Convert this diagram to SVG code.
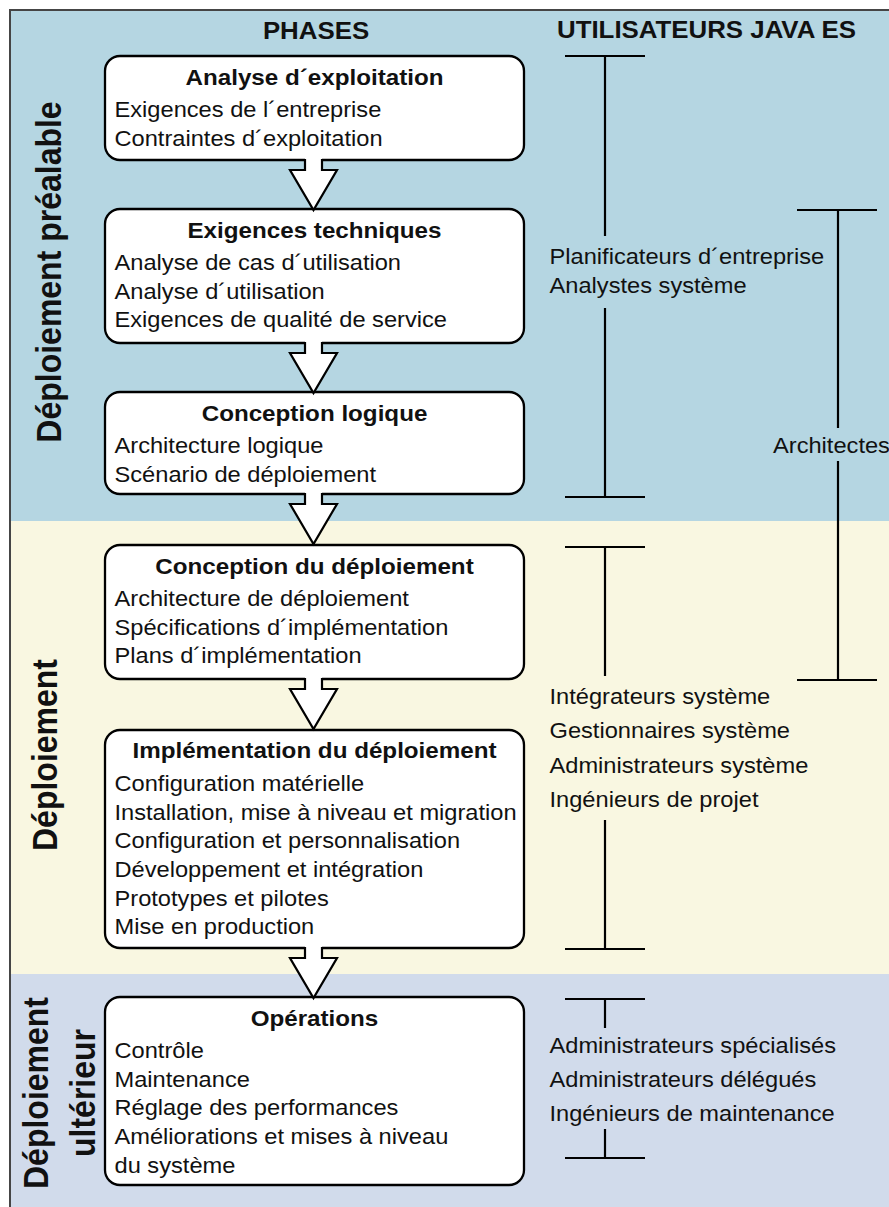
<svg xmlns="http://www.w3.org/2000/svg" width="889" height="1207" viewBox="0 0 889 1207">
  <style>
    text { font-family: "Liberation Sans", Arial, Helvetica, sans-serif; fill: #111; }
    .item { font-size: 21.5px; }
    .title { font-size: 22px; font-weight: bold; text-anchor: middle; }
    .head { font-size: 23.5px; font-weight: bold; text-anchor: middle; }
    .side { font-size: 32px; font-weight: bold; text-anchor: middle; }
    .box { fill: #fff; stroke: #000; stroke-width: 2.3; }
    .bar { stroke: #000; stroke-width: 2.2; fill: none; }
    .arrow-fill { fill: #fff; stroke: none; }
    .arrow-line { fill: none; stroke: #000; stroke-width: 2.2; stroke-linejoin: miter; }
  </style>
  <defs>
    <!-- hollow down arrow; origin at the bottom edge of the upper box -->
    <g id="arrow">
      <polygon class="arrow-fill" points="-8.5,-3 -8.5,10 -23.5,10 0,50 23.5,10 8.5,10 8.5,-3"/>
      <polyline class="arrow-line" points="-8.5,-1 -8.5,10 -23.5,10 0,50 23.5,10 8.5,10 8.5,-1"/>
    </g>
  </defs>

  <!-- background bands -->
  <g id="bands">
    <rect x="10" y="10" width="879" height="511" fill="#b5d6e2"/>
    <rect x="10" y="521" width="879" height="453" fill="#f9f7e1"/>
    <rect x="10" y="974" width="879" height="233" fill="#d1dbeb"/>
    <path d="M10,1207 V10 H889" fill="none" stroke="#454545" stroke-width="2"/>
  </g>

  <!-- column headers -->
  <g id="headers">
    <g transform="translate(316 0) scale(1.1 1)"><text class="head" x="0" y="39">PHASES</text></g>
    <g transform="translate(706.5 0) scale(1.1 1)"><text class="head" x="0" y="38">UTILISATEURS JAVA ES</text></g>
  </g>

  <!-- stage labels -->
  <g id="stage-labels">
    <g transform="translate(61 272) scale(1.1 1) rotate(-90)"><text class="side" x="0" y="0">Déploiement préalable</text></g>
    <g transform="translate(57 755) scale(1.1 1) rotate(-90)"><text class="side" x="0" y="0">Déploiement</text></g>
    <g transform="translate(48 1093) scale(1.1 1) rotate(-90)"><text class="side" x="0" y="0">Déploiement</text></g>
    <g transform="translate(95 1093) scale(1.1 1) rotate(-90)"><text class="side" x="0" y="0">ultérieur</text></g>
  </g>

  <!-- phase boxes -->
  <g id="analyse-exploitation">
    <rect class="box" x="105" y="56" width="419" height="104" rx="15"/>
    <g transform="translate(314.5 0) scale(1.1 1)"><text class="title" x="0" y="85">Analyse d´exploitation</text></g>
    <g transform="translate(114.5 0) scale(1.1 1)">
      <text class="item" x="0" y="117">Exigences de l´entreprise</text>
      <text class="item" x="0" y="145.7">Contraintes d´exploitation</text>
    </g>
  </g>

  <g id="exigences-techniques">
    <rect class="box" x="105" y="209" width="419" height="134" rx="15"/>
    <g transform="translate(314.5 0) scale(1.1 1)"><text class="title" x="0" y="238">Exigences techniques</text></g>
    <g transform="translate(114.5 0) scale(1.1 1)">
      <text class="item" x="0" y="270">Analyse de cas d´utilisation</text>
      <text class="item" x="0" y="298.7">Analyse d´utilisation</text>
      <text class="item" x="0" y="327.4">Exigences de qualité de service</text>
    </g>
  </g>

  <g id="conception-logique">
    <rect class="box" x="105" y="392" width="419" height="102" rx="15"/>
    <g transform="translate(314.5 0) scale(1.1 1)"><text class="title" x="0" y="421">Conception logique</text></g>
    <g transform="translate(114.5 0) scale(1.1 1)">
      <text class="item" x="0" y="453">Architecture logique</text>
      <text class="item" x="0" y="481.7">Scénario de déploiement</text>
    </g>
  </g>

  <g id="conception-deploiement">
    <rect class="box" x="105" y="545" width="419" height="134" rx="15"/>
    <g transform="translate(314.5 0) scale(1.1 1)"><text class="title" x="0" y="574">Conception du déploiement</text></g>
    <g transform="translate(114.5 0) scale(1.1 1)">
      <text class="item" x="0" y="606">Architecture de déploiement</text>
      <text class="item" x="0" y="634.7">Spécifications d´implémentation</text>
      <text class="item" x="0" y="663.4">Plans d´implémentation</text>
    </g>
  </g>

  <g id="implementation-deploiement">
    <rect class="box" x="105" y="730" width="419" height="218" rx="15"/>
    <g transform="translate(314.5 0) scale(1.1 1)"><text class="title" x="0" y="758">Implémentation du déploiement</text></g>
    <g transform="translate(114.5 0) scale(1.1 1)">
      <text class="item" x="0" y="791">Configuration matérielle</text>
      <text class="item" x="0" y="819.7">Installation, mise à niveau et migration</text>
      <text class="item" x="0" y="848.4">Configuration et personnalisation</text>
      <text class="item" x="0" y="877.1">Développement et intégration</text>
      <text class="item" x="0" y="905.8">Prototypes et pilotes</text>
      <text class="item" x="0" y="934.5">Mise en production</text>
    </g>
  </g>

  <g id="operations">
    <rect class="box" x="105" y="997" width="419" height="188" rx="15"/>
    <g transform="translate(314.5 0) scale(1.1 1)"><text class="title" x="0" y="1026">Opérations</text></g>
    <g transform="translate(114.5 0) scale(1.1 1)">
      <text class="item" x="0" y="1058">Contrôle</text>
      <text class="item" x="0" y="1086.7">Maintenance</text>
      <text class="item" x="0" y="1115.4">Réglage des performances</text>
      <text class="item" x="0" y="1144.1">Améliorations et mises à niveau</text>
      <text class="item" x="0" y="1172.8">du système</text>
    </g>
  </g>

  <!-- flow arrows between phases -->
  <g id="connectors">
    <use href="#arrow" transform="translate(313.5 160)"/>
    <use href="#arrow" transform="translate(313.5 343)"/>
    <use href="#arrow" transform="translate(313.5 494)"/>
    <use href="#arrow" transform="translate(313.5 679)"/>
    <use href="#arrow" transform="translate(313.5 948)"/>
  </g>

  <!-- user ranges -->
  <g id="users-planning">
    <path class="bar" d="M565,56 H645 M605,56 V236 M605,308 V497 M565,497 H645"/>
    <g transform="translate(549.5 0) scale(1.1 1)">
      <text class="item" x="0" y="264">Planificateurs d´entreprise</text>
      <text class="item" x="0" y="293">Analystes système</text>
    </g>
  </g>

  <g id="users-architects">
    <path class="bar" d="M797,210 H877 M838,210 V428 M838,461 V680 M797,680 H877"/>
    <g transform="translate(773 0) scale(1.1 1)">
      <text class="item" x="0" y="453">Architectes</text>
    </g>
  </g>

  <g id="users-deployment">
    <path class="bar" d="M565,547 H645 M605,547 V676 M605,820 V949 M565,949 H645"/>
    <g transform="translate(549.5 0) scale(1.1 1)">
      <text class="item" x="0" y="704">Intégrateurs système</text>
      <text class="item" x="0" y="738.5">Gestionnaires système</text>
      <text class="item" x="0" y="773">Administrateurs système</text>
      <text class="item" x="0" y="807.5">Ingénieurs de projet</text>
    </g>
  </g>

  <g id="users-operations">
    <path class="bar" d="M565,999 H645 M605,999 V1028 M605,1129 V1158 M565,1158 H645"/>
    <g transform="translate(549.5 0) scale(1.1 1)">
      <text class="item" x="0" y="1053">Administrateurs spécialisés</text>
      <text class="item" x="0" y="1087">Administrateurs délégués</text>
      <text class="item" x="0" y="1121">Ingénieurs de maintenance</text>
    </g>
  </g>
</svg>
